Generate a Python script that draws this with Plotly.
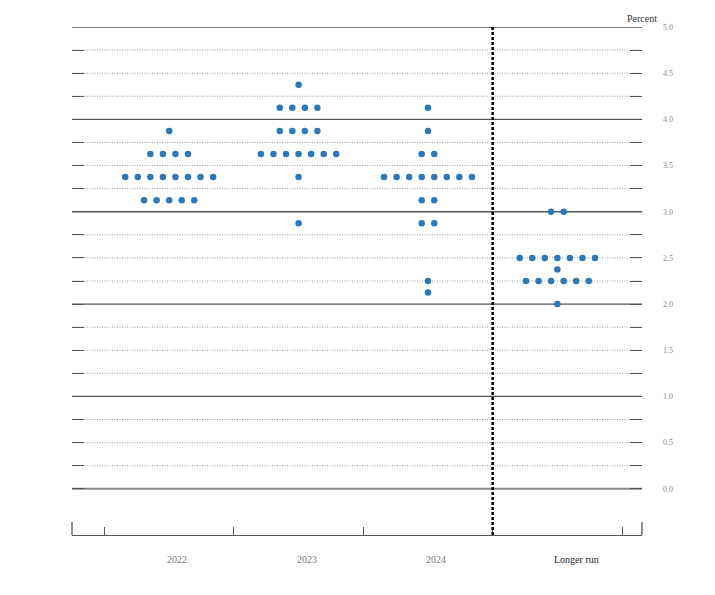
import plotly.graph_objects as go

# FOMC participants' midpoint assessments (dot plot)
categories = ["2022", "2023", "2024", "Longer run"]

levels_2022 = [3.875, 3.625, 3.375, 3.125]
counts_2022 = [1, 4, 8, 5]

levels_2023 = [4.375, 4.125, 3.875, 3.625, 3.375, 2.875]
counts_2023 = [1, 4, 4, 7, 1, 1]

levels_2024 = [4.125, 3.875, 3.625, 3.375, 3.125, 2.875, 2.25, 2.125]
counts_2024 = [1, 1, 2, 8, 2, 2, 1, 1]

levels_lr = [3.0, 2.5, 2.375, 2.25, 2.0]
counts_lr = [2, 7, 1, 6, 1]

y_ticks = [i * 0.25 for i in range(21)]
y_labels = ["%.1f" % v if (v * 2) == int(v * 2) else "" for v in y_ticks]

series = [(levels_2022, counts_2022), (levels_2023, counts_2023),
          (levels_2024, counts_2024), (levels_lr, counts_lr)]

SERIF = "Times New Roman, Liberation Serif, serif"

step = 0.097  # horizontal gap between dots in one row
xs, ys = [], []
for i, (lev, cnt) in enumerate(series):
    for v, n in zip(lev, cnt):
        for k in range(n):
            xs.append(i + (k - (n - 1) / 2) * step)
            ys.append(v)

fig = go.Figure()
fig.add_trace(go.Scatter(x=xs, y=ys, mode="markers",
                         marker=dict(size=6.5, color="#2e78b7"),
                         hoverinfo="y"))

# horizontal grid lines, solid at whole percents, zero line heavier grey
for v in y_ticks:
    whole = v == int(v)
    if v == 0:
        ln = dict(color="#888", width=2)
    elif whole:
        ln = dict(color="#555", width=1.3)
    else:
        ln = dict(color="#999", width=1, dash="1px,1.5px")
    fig.add_shape(type="line", xref="paper", x0=0, x1=1, y0=v, y1=v,
                  layer="below", line=ln)

# dashed divider before longer run
fig.add_shape(type="line", x0=2.5, x1=2.5, y0=-0.5, y1=5.0,
              line=dict(color="black", width=2.5, dash="3px,2px"))

# tall end ticks on the bottom axis
for xp in [0, 1]:
    fig.add_shape(type="line", xref="paper", x0=xp, x1=xp, y0=-0.5, y1=-0.36,
                  line=dict(color="#555", width=1.3))

fig.add_annotation(text="Percent", xref="paper", yref="paper", x=1, y=1,
                   xanchor="center", yanchor="bottom", yshift=1, showarrow=False,
                   font=dict(family=SERIF, size=10, color="#333"))

# category labels under the axis (slightly right of centre, as in the original)
for i, name in enumerate(categories):
    lr = name == "Longer run"
    fig.add_annotation(text=name, x=i, xref="x", y=0, yref="paper",
                       yanchor="top", yshift=-17, xshift=19 if lr else 8,
                       showarrow=False,
                       font=dict(family=SERIF, size=10,
                                 color="#222" if lr else "#777"))

# page has an 8px body margin, so the figure is a bit smaller than the window
fig.update_layout(
    width=699, height=579,
    margin=dict(l=64, r=65, t=19, b=52),
    plot_bgcolor="white", paper_bgcolor="white",
    showlegend=False,
    font=dict(family=SERIF),
    xaxis=dict(range=[-0.751, 3.654], showgrid=False, zeroline=False,
               showline=True, linecolor="#555", linewidth=1.3,
               tickvals=[-0.5, 0.5, 1.5, 2.5, 3.5], showticklabels=False,
               ticks="inside", ticklen=8, tickcolor="#555", tickwidth=1.3),
    yaxis=dict(range=[-0.5, 5.0], side="right", showgrid=False, zeroline=False,
               showline=False, tickvals=y_ticks, ticktext=y_labels,
               ticks="inside", ticklen=12, tickcolor="#555", tickwidth=1.3,
               mirror="ticks", ticklabelstandoff=20,
               tickfont=dict(family=SERIF, size=8, color="#888")),
)

fig.write_html("out.html")
